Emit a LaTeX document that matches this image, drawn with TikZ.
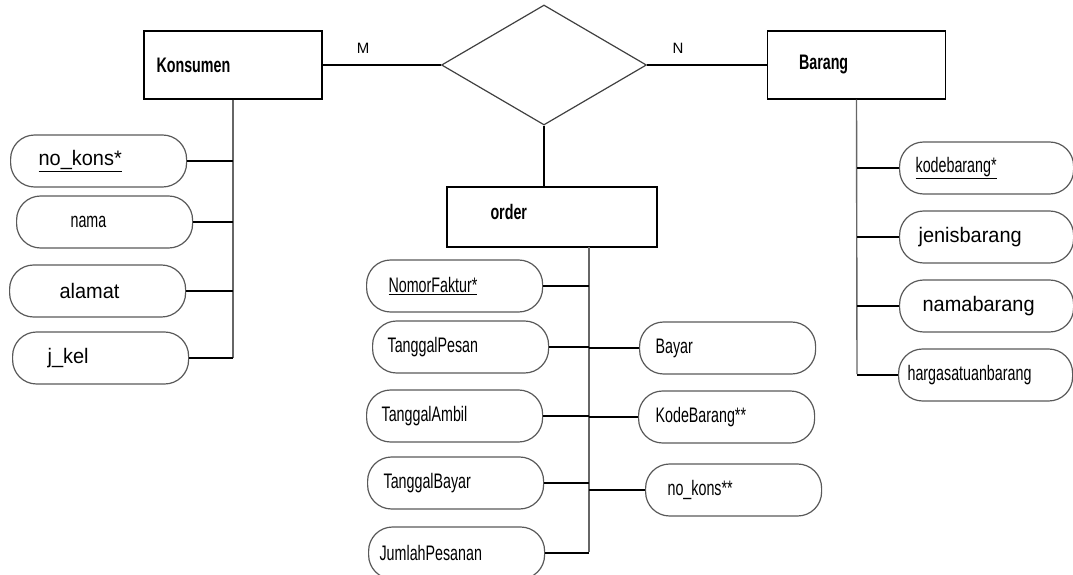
\documentclass[tikz,border=0pt]{standalone}
\usepackage{fontspec}
\setmainfont{Liberation Sans}
\newfontfamily\narrowfont{Liberation Sans}[FakeStretch=0.68]
\newfontfamily\plainfont{Liberation Sans}[FakeStretch=0.95]
\usetikzlibrary{shapes.geometric}
\newcommand{\regattr}{\plainfont\fontsize{21}{25}\selectfont}
\newcommand{\narattr}{\narrowfont\fontsize{21}{25}\selectfont}

\tikzset{
    entity/.style={draw=black, line width=1.4pt, minimum width=178pt, minimum height=68pt, inner sep=0pt},
    title/.style={font=\narrowfont\bfseries\fontsize{21}{25}\selectfont, anchor=west, inner sep=0pt},
    attr/.style={draw=black!65, line width=1.2pt, rounded corners=24pt, minimum height=52pt, minimum width=176pt, anchor=west, align=left},
    link/.style={black, line width=1.2pt},
    spine/.style={black!60, line width=1.4pt},
    card/.style={font=\fontsize{15}{18}\selectfont, inner sep=0pt}
}

\begin{document}
\begin{tikzpicture}[x=1pt, y=-1pt]
        \useasboundingbox (0,0) rectangle (1073,575);

        % entities and relation
        \node[entity] (konsumen) at (233,65) {};
        \node[title] (konsumenLbl) at ([xshift=13pt]konsumen.west) {Konsumen};
        \node[entity] (barang) at (856.5,65) {};
        \node[title] (barangLbl) at ([xshift=32pt]barang.west) {Barang};
        \node[entity, minimum width=210pt, minimum height=60pt] (order) at (552,217) {};
        \node[title] (orderLbl) at ([xshift=44pt, yshift=5pt]order.west) {order};
        \node[diamond, draw=black!75, line width=1.2pt, minimum width=205pt, minimum height=120pt, inner sep=0pt] (rel) at (544,65) {};

        \draw [black, line width=2pt] (konsumen) -- (rel);
        \draw [black, line width=2pt] (rel) -- (barang);
        \draw [black, line width=1.4pt] (rel.south) -- (rel.south |- order.north);
        \node[card] (mLbl) at (363,48) {M};
        \node[card] (nLbl) at (678,48) {N};

        % spines
        \coordinate (kEnd) at (233,358);
        \coordinate (oTop) at (589,247);
        \coordinate (oEnd) at (589,552);
        \coordinate (bEnd) at (857,374);
        \draw [spine] (konsumen.south) -- (kEnd);
        \draw [spine] (oTop) -- (oEnd);
        \draw [spine] (barang.south) -- (bEnd);

        % attributes of Konsumen
        \foreach \nm/\x/\y/\p/\t in {
            nokons/10/161/28/{\regattr\underline{no\_kons*}},
            nama/16/222/54/{\narattr nama},
            alamat/9/291/50/{\regattr alamat},
            jkel/12/358/35/{\regattr j\_kel}} {
            \pgfmathsetmacro\tw{176-2*\p}
            \node[attr, inner xsep=\p pt, text width=\tw pt] (\nm) at (\x,\y) {\t};
            \draw [link] (\nm.east) -- (\nm.east -| kEnd);
        }

        % attributes of order, left
        \foreach \nm/\x/\y/\p/\t in {
            nofaktur/366/286/22/{\narattr\underline{NomorFaktur*}},
            tglpesan/372/347/15/{\narattr TanggalPesan},
            tglambil/366/416/15/{\narattr TanggalAmbil},
            tglbayar/367/483/16/{\narattr TanggalBayar},
            jmlpesan/368/553/11/{\narattr JumlahPesanan}} {
            \pgfmathsetmacro\tw{176-2*\p}
            \node[attr, inner xsep=\p pt, text width=\tw pt] (\nm) at (\x,\y) {\t};
            \draw [link] (\nm.east) -- (\nm.east -| oEnd);
        }

        % attributes of order, right
        \foreach \nm/\x/\y/\p/\t in {
            bayar/639/348/16/{\narattr Bayar},
            kdbarang/638/417/17/{\narattr KodeBarang**},
            nokonsfk/645/490/22/{\narattr no\_kons**}} {
            \pgfmathsetmacro\tw{176-2*\p}
            \node[attr, inner xsep=\p pt, text width=\tw pt] (\nm) at (\x,\y) {\t};
            \draw [link] (\nm.west) -- (\nm.west -| oEnd);
        }

        % attributes of Barang
        \foreach \nm/\x/\y/\p/\t in {
            kodebrg/899/168/16/{\narattr\underline{kodebarang*}},
            jenisbrg/899/237/19/{\regattr jenisbarang},
            namabrg/899/306/23/{\regattr namabarang},
            hargabrg/898/375/9/{\narattr hargasatuanbarang}} {
            \pgfmathsetmacro\tw{174-2*\p}
            \node[attr, minimum width=174pt, inner xsep=\p pt, text width=\tw pt] (\nm) at (\x,\y) {\t};
            \draw [link] (\nm.west) -- (\nm.west -| bEnd);
        }
    \end{tikzpicture}
\end{document}
